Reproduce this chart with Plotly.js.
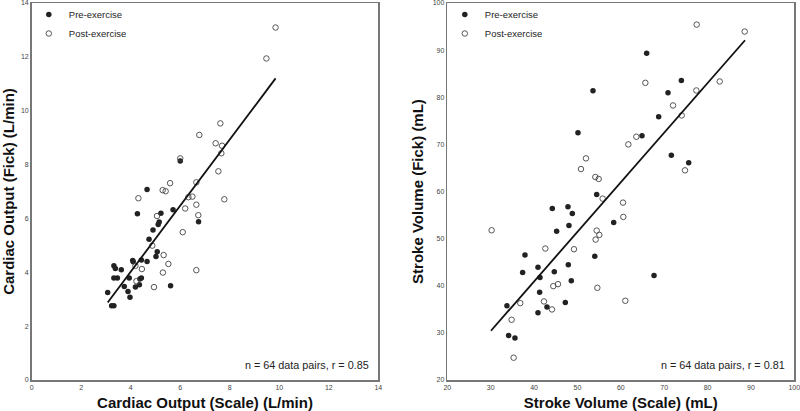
<!DOCTYPE html>
<html>
<head>
<meta charset="utf-8">
<script src="https://cdn.plot.ly/plotly-3.0.1.min.js"></script>
<style>html,body{margin:0;padding:0;background:#fff;}#chart{width:800px;height:411px;}</style>
</head>
<body>
<div id="chart"></div>
<script>
// Cardiac output (L/min): scale vs Fick
var coPreScale = [3.07,3.23,3.32,3.32,3.38,3.32,3.46,3.62,3.74,3.89,3.94,3.97,4.08,4.10,4.19,4.27,4.35,4.37,4.43,4.43,4.66,4.66,4.74,4.90,5.02,5.07,5.11,5.15,5.22,5.61,5.71,6.00,6.74];
var coPreFick  = [3.25,2.76,2.76,4.24,4.14,3.79,3.79,4.09,3.47,3.29,3.79,3.07,4.44,4.39,3.45,6.17,3.54,3.75,3.79,4.46,4.40,7.07,5.23,5.57,4.59,4.76,5.77,5.87,6.19,3.50,6.32,8.13,5.88];
var coPostScale = [9.85,9.48,7.62,6.77,7.43,7.69,7.66,6.00,7.54,5.59,6.65,5.29,5.41,4.31,6.33,6.49,7.78,6.65,6.20,6.73,5.06,6.10,4.87,5.33,5.52,4.19,4.45,5.30,6.65,4.23,4.94];
var coPostFick  = [13.09,11.94,9.53,9.10,8.79,8.70,8.42,8.23,7.75,7.31,7.34,7.05,7.01,6.75,6.79,6.81,6.71,6.51,6.37,6.12,6.09,5.49,4.99,4.64,4.31,4.24,4.12,3.99,4.08,3.67,3.45];
var coFitX = [3.07, 9.85];
var coFitY = [2.88, 11.20];

// Stroke volume (mL): scale vs Fick
var svPreScale = [65.96,53.59,73.96,70.88,68.73,64.89,50.13,71.65,75.65,54.44,44.21,47.82,48.82,58.36,45.21,48.05,37.91,54.0,37.37,40.91,44.67,47.90,41.37,48.59,67.66,41.29,33.76,42.98,47.21,40.91,34.14,35.60];
var svPreFick  = [89.35,81.37,83.56,80.95,75.86,71.84,72.47,67.67,66.12,59.34,56.37,56.79,55.31,53.40,51.57,52.77,46.55,46.27,42.81,43.94,42.95,44.43,41.75,41.05,42.18,38.64,35.75,35.47,36.46,34.27,29.46,28.90];
var svPostScale = [77.49,88.56,65.66,82.80,77.42,72.04,74.04,63.58,61.74,51.97,50.82,74.80,54.13,54.90,55.82,60.51,60.58,30.22,54.44,55.05,54.20,42.60,49.21,45.52,44.44,54.59,42.29,36.83,44.13,61.04,34.83,35.30];
var svPostFick  = [95.42,93.94,83.06,83.35,81.44,78.26,76.14,71.62,70.00,67.03,64.77,64.49,63.08,62.66,58.49,57.64,54.60,51.78,51.71,50.79,49.80,47.90,47.75,40.34,39.92,39.56,36.67,36.31,34.97,36.81,32.78,24.73];
var svFitX = [30.07, 88.64];
var svFitY = [30.45, 92.10];

var seriesNames = ['Pre-exercise', 'Post-exercise'];
var notes = ['n = 64 data pairs, r = 0.85', 'n = 64 data pairs, r = 0.81'];

var preMarker = {symbol:'circle', size:5.5, color:'#222', line:{width:0}};
var postMarker = {symbol:'circle-open', size:5.5, color:'#444', line:{width:0.9, color:'#444'}};

var data = [
  {x:coPreScale, y:coPreFick, type:'scatter', mode:'markers', name:seriesNames[0], marker:preMarker, xaxis:'x', yaxis:'y', legend:'legend'},
  {x:coPostScale, y:coPostFick, type:'scatter', mode:'markers', name:seriesNames[1], marker:postMarker, xaxis:'x', yaxis:'y', legend:'legend'},
  {x:coFitX, y:coFitY, type:'scatter', mode:'lines', line:{color:'#111', width:1.8}, showlegend:false, xaxis:'x', yaxis:'y', hoverinfo:'skip'},
  {x:svPreScale, y:svPreFick, type:'scatter', mode:'markers', name:seriesNames[0], marker:preMarker, xaxis:'x2', yaxis:'y2', legend:'legend2'},
  {x:svPostScale, y:svPostFick, type:'scatter', mode:'markers', name:seriesNames[1], marker:postMarker, xaxis:'x2', yaxis:'y2', legend:'legend2'},
  {x:svFitX, y:svFitY, type:'scatter', mode:'lines', line:{color:'#111', width:1.8}, showlegend:false, xaxis:'x2', yaxis:'y2', hoverinfo:'skip'}
];

var tickFont = {family:'Liberation Sans, Arial, sans-serif', size:7, color:'#444'};
var titleFont = {family:'Liberation Sans, Arial, sans-serif', size:15, color:'#111', weight:'bold'};
function ax(domain, range, dtick, title, anchor, standoff) {
  var t = {text:title, font:titleFont};
  if (standoff !== undefined) t.standoff = standoff;
  return {domain:domain, range:range, dtick:dtick, tick0:range[0], showgrid:false, zeroline:false,
    showline:true, mirror:true, linecolor:'#777', linewidth:1.5, ticks:'', tickfont:tickFont,
    ticklabeloverflow:'allow', title:t, anchor:anchor, fixedrange:true};
}
var legendBase = {font:{family:'Liberation Sans, Arial, sans-serif', size:9.5, color:'#222'}, bgcolor:'rgba(0,0,0,0)', itemwidth:30, yanchor:'top', xanchor:'left', tracegroupgap:0};

var layout = {
  width:800, height:411,
  margin:{l:0, r:0, t:3, b:31},
  paper_bgcolor:'#fff', plot_bgcolor:'#fff',
  xaxis: ax([0.0396, 0.4729], [0,14], 2, 'Cardiac Output (Scale) (L/min)', 'y'),
  yaxis: ax([0, 1], [0,14], 2, 'Cardiac Output (Fick) (L/min)', 'x', 2),
  xaxis2: ax([0.5591, 0.9929], [20,100], 10, 'Stroke Volume (Scale) (mL)', 'y2'),
  yaxis2: ax([0, 1], [20,100], 10, 'Stroke Volume (Fick) (mL)', 'x2', 5),
  legend: Object.assign({x:0.036, y:1.008}, legendBase),
  legend2: Object.assign({x:0.556, y:1.008}, legendBase),
  annotations:[
    {text:notes[0], xref:'x domain', yref:'y domain', x:0.98, y:0.04, xanchor:'right', yanchor:'middle', showarrow:false, font:{family:'Liberation Sans, Arial, sans-serif', size:10.8, color:'#222'}},
    {text:notes[1], xref:'x2 domain', yref:'y2 domain', x:0.98, y:0.04, xanchor:'right', yanchor:'middle', showarrow:false, font:{family:'Liberation Sans, Arial, sans-serif', size:10.8, color:'#222'}}
  ],
  showlegend:true
};

Plotly.newPlot('chart', data, layout, {displayModeBar:false, staticPlot:true});
</script>
</body>
</html>
